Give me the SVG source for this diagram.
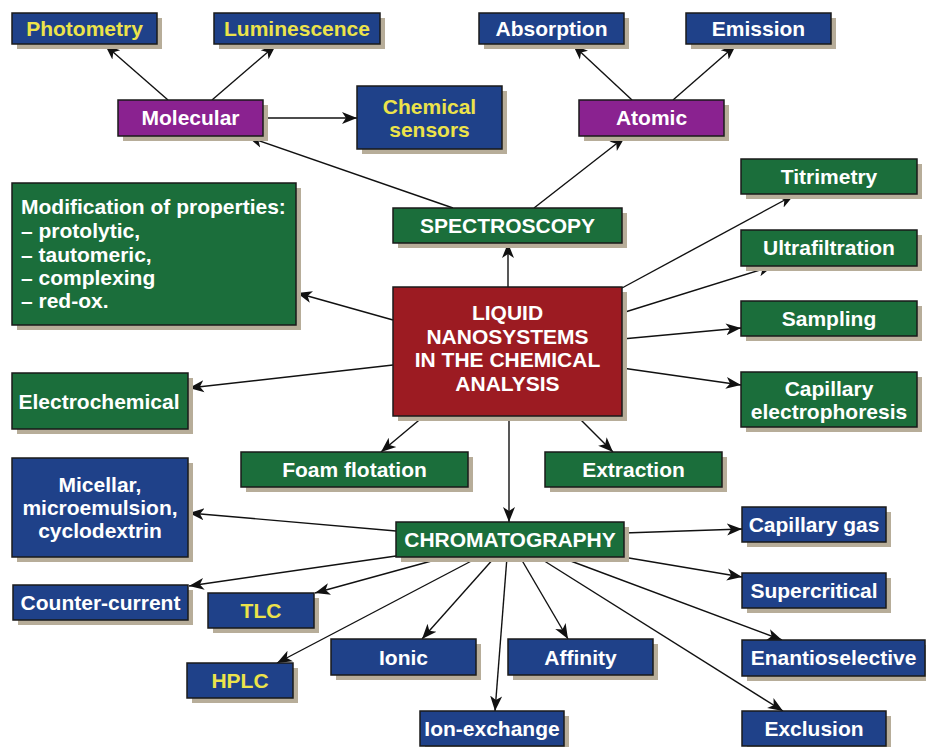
<svg xmlns="http://www.w3.org/2000/svg" width="926" height="747" viewBox="0 0 926 747">
<defs>
<marker id="ah" markerUnits="userSpaceOnUse" markerWidth="16" markerHeight="14" viewBox="0 0 16 14" refX="15" refY="7" orient="auto">
<path d="M0,1 L15,7 L0,13 L4,7 Z" fill="#111"/>
</marker>
</defs>
<style>
.sh{fill:#b7ad99}
.bx{stroke:#1a1a1a;stroke-width:1.5}
.b{fill:#1f4189}
.g{fill:#1b6e3b}
.p{fill:#8a2290}
.r{fill:#9c1b22}
text{font-family:"Liberation Sans",Arial,sans-serif;font-weight:bold;font-size:21px;text-anchor:middle}
.tw{fill:#ffffff}
.ty{fill:#ece34a}
.tl{text-anchor:start}
.c line{stroke:#111;stroke-width:1.4;marker-end:url(#ah)}
</style>
<rect width="926" height="747" fill="#ffffff"/>

<g class="c" id="connectors">
<line x1="168" y1="100" x2="105" y2="45"/>
<line x1="212" y1="100" x2="276" y2="45"/>
<line x1="263" y1="118" x2="357" y2="118"/>
<line x1="453" y1="208" x2="248" y2="137"/>
<line x1="534" y1="208" x2="625" y2="137"/>
<line x1="632" y1="100" x2="573" y2="45"/>
<line x1="673" y1="100" x2="736" y2="45"/>
<line x1="508" y1="287" x2="508" y2="243"/>
<line x1="393" y1="320" x2="297" y2="293"/>
<line x1="393" y1="365" x2="189" y2="388"/>
<line x1="622" y1="288" x2="794" y2="195"/>
<line x1="622" y1="313" x2="773" y2="266"/>
<line x1="622" y1="339" x2="741" y2="328"/>
<line x1="622" y1="368" x2="741" y2="385"/>
<line x1="424" y1="416" x2="381" y2="452"/>
<line x1="577" y1="416" x2="613" y2="452"/>
<line x1="509" y1="416" x2="509" y2="522"/>
<line x1="396" y1="531" x2="189" y2="513"/>
<line x1="396" y1="556" x2="189" y2="586"/>
<line x1="446" y1="557" x2="315" y2="593"/>
<line x1="479" y1="557" x2="277" y2="663"/>
<line x1="495" y1="557" x2="422" y2="639"/>
<line x1="507" y1="557" x2="495" y2="711"/>
<line x1="520" y1="557" x2="568" y2="639"/>
<line x1="538" y1="557" x2="783" y2="711"/>
<line x1="560" y1="557" x2="782" y2="640"/>
<line x1="623" y1="557" x2="742" y2="577"/>
<line x1="624" y1="533" x2="742" y2="529"/>
</g>

<g id="photometry"><rect class="sh" x="17" y="18" width="145" height="31"/><rect class="bx b" x="12" y="13" width="145" height="31"/><text class="ty" x="84.5" y="36">Photometry</text></g>
<g id="luminescence"><rect class="sh" x="219" y="18" width="166" height="31"/><rect class="bx b" x="214" y="13" width="166" height="31"/><text class="ty" x="297" y="36">Luminescence</text></g>
<g id="absorption"><rect class="sh" x="484" y="18" width="145" height="31"/><rect class="bx b" x="479" y="13" width="145" height="31"/><text class="tw" x="551.5" y="36">Absorption</text></g>
<g id="emission"><rect class="sh" x="691" y="18" width="145" height="31"/><rect class="bx b" x="686" y="13" width="145" height="31"/><text class="tw" x="758.5" y="36">Emission</text></g>

<g id="molecular"><rect class="sh" x="123" y="105" width="145" height="36"/><rect class="bx p" x="118" y="100" width="145" height="36"/><text class="tw" x="190.5" y="125">Molecular</text></g>
<g id="chemical-sensors"><rect class="sh" x="362" y="91" width="145" height="63"/><rect class="bx b" x="357" y="86" width="145" height="63"/><text class="ty" x="429.5" y="114">Chemical</text><text class="ty" x="429.5" y="137">sensors</text></g>
<g id="atomic"><rect class="sh" x="584" y="105" width="145" height="36"/><rect class="bx p" x="579" y="100" width="145" height="36"/><text class="tw" x="651.5" y="125">Atomic</text></g>

<g id="modification"><rect class="sh" x="17" y="188" width="284" height="142"/><rect class="bx g" x="12" y="183" width="284" height="142"/>
<text class="tw tl" x="21" y="214">Modification of properties:</text>
<text class="tw tl" x="21" y="238">– protolytic,</text>
<text class="tw tl" x="21" y="262">– tautomeric,</text>
<text class="tw tl" x="21" y="285">– complexing</text>
<text class="tw tl" x="21" y="308">– red-ox.</text></g>

<g id="spectroscopy"><rect class="sh" x="398" y="213" width="229" height="35"/><rect class="bx g" x="393" y="208" width="229" height="35"/><text class="tw" x="507.5" y="233">SPECTROSCOPY</text></g>

<g id="titrimetry"><rect class="sh" x="746" y="164" width="176" height="35"/><rect class="bx g" x="741" y="159" width="176" height="35"/><text class="tw" x="829" y="184">Titrimetry</text></g>
<g id="ultrafiltration"><rect class="sh" x="746" y="235" width="176" height="36"/><rect class="bx g" x="741" y="230" width="176" height="36"/><text class="tw" x="829" y="255">Ultrafiltration</text></g>
<g id="sampling"><rect class="sh" x="746" y="306" width="176" height="35"/><rect class="bx g" x="741" y="301" width="176" height="35"/><text class="tw" x="829" y="326">Sampling</text></g>
<g id="capillary-electrophoresis"><rect class="sh" x="746" y="377" width="176" height="55"/><rect class="bx g" x="741" y="372" width="176" height="55"/><text class="tw" x="829" y="396">Capillary</text><text class="tw" x="829" y="419">electrophoresis</text></g>

<g id="center"><rect class="sh" x="398" y="292" width="229" height="129"/><rect class="bx r" x="393" y="287" width="229" height="129"/>
<text class="tw" x="507.5" y="320">LIQUID</text>
<text class="tw" x="507.5" y="344">NANOSYSTEMS</text>
<text class="tw" x="507.5" y="367">IN THE CHEMICAL</text>
<text class="tw" x="507.5" y="391">ANALYSIS</text></g>

<g id="electrochemical"><rect class="sh" x="17" y="378" width="176" height="56"/><rect class="bx g" x="12" y="373" width="176" height="56"/><text class="tw" x="99" y="409">Electrochemical</text></g>
<g id="foam-flotation"><rect class="sh" x="246" y="457" width="227" height="35"/><rect class="bx g" x="241" y="452" width="227" height="35"/><text class="tw" x="354.5" y="477">Foam flotation</text></g>
<g id="extraction"><rect class="sh" x="550" y="457" width="177" height="35"/><rect class="bx g" x="545" y="452" width="177" height="35"/><text class="tw" x="633.5" y="477">Extraction</text></g>

<g id="micellar"><rect class="sh" x="17" y="463" width="176" height="99"/><rect class="bx b" x="12" y="458" width="176" height="99"/><text class="tw" x="100" y="492">Micellar,</text><text class="tw" x="100" y="515">microemulsion,</text><text class="tw" x="100" y="538">cyclodextrin</text></g>
<g id="chromatography"><rect class="sh" x="401" y="527" width="228" height="35"/><rect class="bx g" x="396" y="522" width="228" height="35"/><text class="tw" x="510" y="547">CHROMATOGRAPHY</text></g>
<g id="capillary-gas"><rect class="sh" x="747" y="512" width="144" height="35"/><rect class="bx b" x="742" y="507" width="144" height="35"/><text class="tw" x="814" y="532">Capillary gas</text></g>
<g id="counter-current"><rect class="sh" x="18" y="590" width="175" height="35"/><rect class="bx b" x="13" y="585" width="175" height="35"/><text class="tw" x="100.5" y="610">Counter-current</text></g>
<g id="tlc"><rect class="sh" x="213" y="598" width="106" height="35"/><rect class="bx b" x="208" y="593" width="106" height="35"/><text class="ty" x="261" y="618">TLC</text></g>
<g id="supercritical"><rect class="sh" x="747" y="578" width="144" height="35"/><rect class="bx b" x="742" y="573" width="144" height="35"/><text class="tw" x="814" y="598">Supercritical</text></g>
<g id="ionic"><rect class="sh" x="336" y="644" width="145" height="36"/><rect class="bx b" x="331" y="639" width="145" height="36"/><text class="tw" x="403.5" y="665">Ionic</text></g>
<g id="affinity"><rect class="sh" x="513" y="644" width="145" height="36"/><rect class="bx b" x="508" y="639" width="145" height="36"/><text class="tw" x="580.5" y="665">Affinity</text></g>
<g id="enantioselective"><rect class="sh" x="747" y="645" width="183" height="36"/><rect class="bx b" x="742" y="640" width="183" height="36"/><text class="tw" x="833.5" y="665">Enantioselective</text></g>
<g id="hplc"><rect class="sh" x="192" y="668" width="106" height="35"/><rect class="bx b" x="187" y="663" width="106" height="35"/><text class="ty" x="240" y="688">HPLC</text></g>
<g id="ion-exchange"><rect class="sh" x="425" y="716" width="144" height="35"/><rect class="bx b" x="420" y="711" width="144" height="35"/><text class="tw" x="492" y="736">Ion-exchange</text></g>
<g id="exclusion"><rect class="sh" x="747" y="716" width="144" height="35"/><rect class="bx b" x="742" y="711" width="144" height="35"/><text class="tw" x="814" y="736">Exclusion</text></g>
</svg>
